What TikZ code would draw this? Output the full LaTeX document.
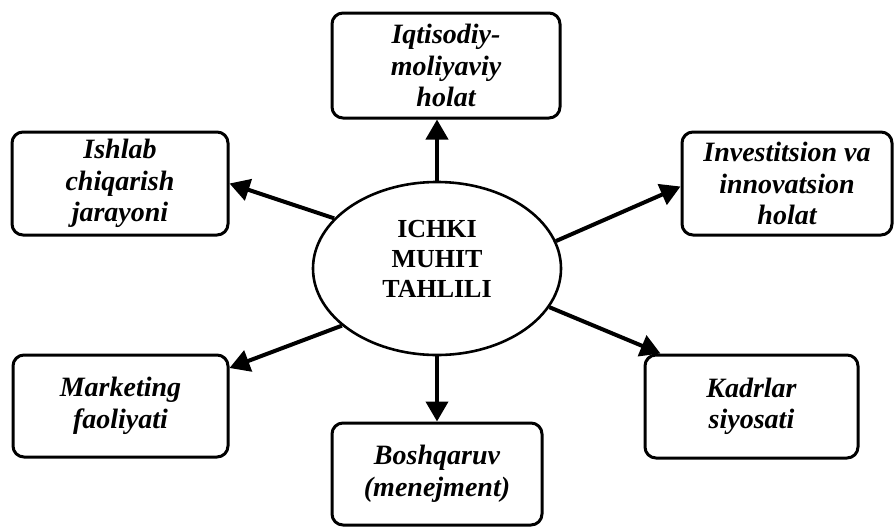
\documentclass[tikz,border=0pt]{standalone}
\usepackage{fontspec}
\setmainfont{Liberation Serif}
\usetikzlibrary{arrows.meta,shapes.geometric,calc}
\begin{document}
\begin{tikzpicture}[x=1pt,y=-1pt,
  box/.style={draw,line width=3pt,rounded corners=11pt,inner sep=0pt,align=center,
    font=\fontsize{28}{31.5}\selectfont\bfseries\itshape},
  arr/.style={line width=4pt,-{Triangle[length=20pt,width=22pt]},shorten <=0pt}]
\useasboundingbox (0,0) rectangle (894,528);
\node[draw,ellipse,line width=2.6pt,minimum width=248pt,minimum height=173pt,inner sep=0pt] (ell) at (437,268.5) {};
\node[align=center,font=\fontsize{26}{30}\selectfont\bfseries] (ttl) at (437,259) {ICHKI\\MUHIT\\TAHLILI};
\node[box,minimum width=228pt,minimum height=105pt] (iq) at (446,65.5) {Iqtisodiy-\\moliyaviy\\holat};
\node[box,minimum width=216pt,minimum height=103pt] (ish) at (120,183.5) {Ishlab\\chiqarish\\jarayoni};
\node[box,minimum width=210pt,minimum height=103pt] (inv) at (787,183.5) {Investitsion va\\innovatsion\\holat};
\node[box,minimum width=215pt,minimum height=102pt] (mk) at (120.5,406) {Marketing\\faoliyati};
\node[box,minimum width=213pt,minimum height=103pt] (kad) at (751.5,406.5) {Kadrlar\\siyosati};
\node[box,minimum width=210pt,minimum height=102pt] (bosh) at (437,474) {Boshqaruv\\(menejment)};
\draw[arr] (ell.north) -- (ell.north |- iq.south);
\draw[arr] (ell.south) -- (bosh.north);
\draw[arr] (ell.154.8) -- (ish.east);
\draw[arr] (ell.211.2) -- ([yshift=38pt]mk.east);
\draw[arr] (ell.13.9) -- ([yshift=-3pt]inv.west);
\draw[arr] (ell.-19.1) -- ([xshift=17pt]kad.north west);
\end{tikzpicture}
\end{document}
